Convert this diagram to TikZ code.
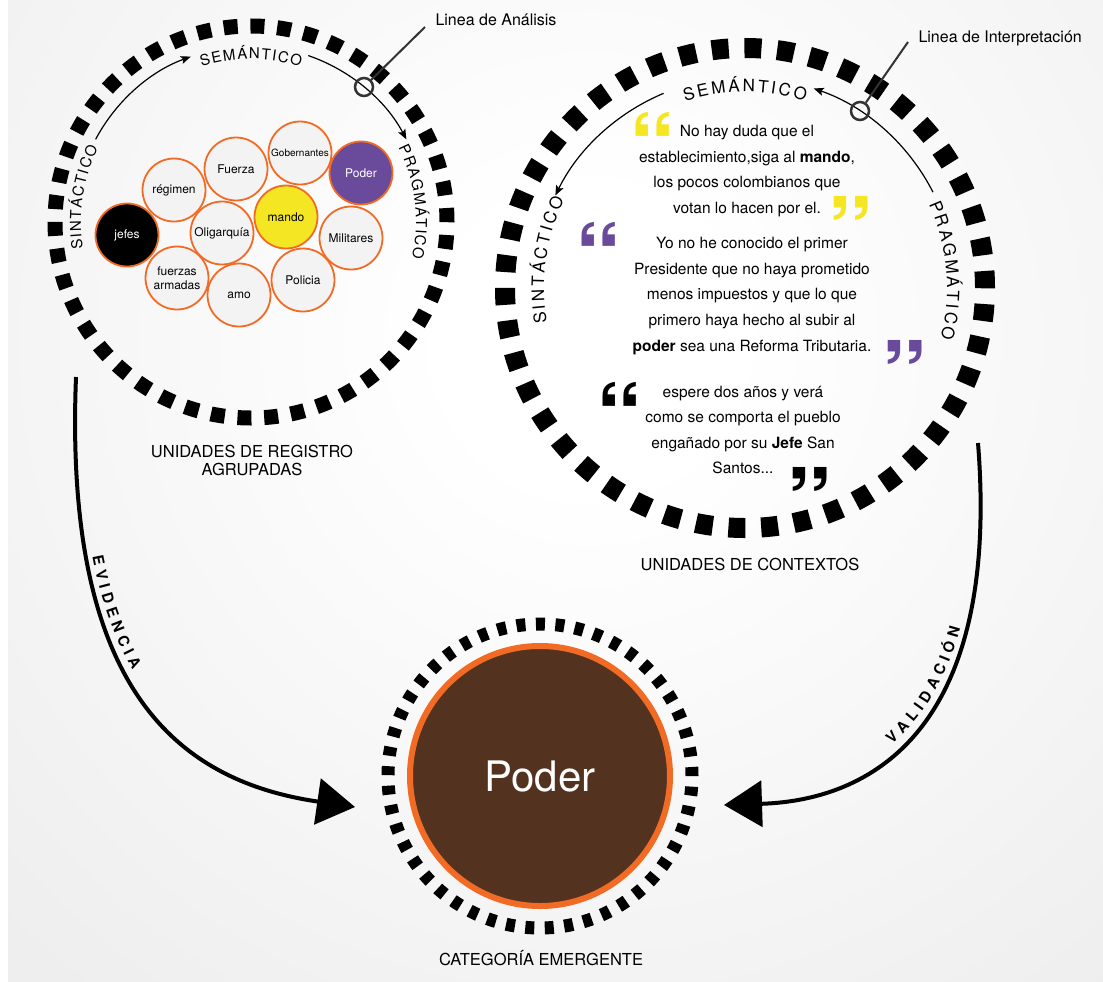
\documentclass[tikz,border=0pt]{standalone}
\usepackage{fontspec}
\setmainfont{TeX Gyre Heros}
\usetikzlibrary{arrows.meta,decorations.text}
\definecolor{naranja}{HTML}{F26B25}
\definecolor{morado}{HTML}{6A4A9B}
\definecolor{amarillo}{HTML}{F4E622}
\definecolor{cafe}{HTML}{533320}
\definecolor{burbuja}{HTML}{F3F3F4}
\definecolor{grisA}{HTML}{F8F8F8}
\definecolor{grisB}{HTML}{EFEFF0}
\definecolor{grisC}{HTML}{E4E4E5}
\definecolor{grisD}{HTML}{DBDBDC}
\definecolor{grisoscuro}{HTML}{333333}
\pgfdeclareradialshading{fondogris}{\pgfpoint{0bp}{0bp}}{color(0bp)=(white);color(4bp)=(white);color(12bp)=(grisA);color(22bp)=(grisB);color(36bp)=(grisC);color(50bp)=(grisD)}
\newcommand{\fanilloA}{\fontsize{15bp}{15bp}\selectfont}
\newcommand{\fanilloB}{\fontsize{17bp}{17bp}\selectfont}
\newcommand{\fflecha}{\bfseries\fontsize{15bp}{15bp}\selectfont}
\tikzset{
  anilloA/.style={circle,draw,line width=15bp,dash pattern=on 14bp off 12.77bp,minimum size=392bp,inner sep=0pt},
  anilloB/.style={circle,draw,line width=20bp,dash pattern=on 17bp off 15.78bp,minimum size=480bp,inner sep=0pt},
  anilloC/.style={circle,draw,line width=13bp,dash pattern=on 9bp off 10.49bp,minimum size=304bp,inner sep=0pt},
  centro/.style={circle,fill=cafe,draw=naranja,line width=6bp,minimum size=260bp,inner sep=0pt,text=white,font=\fontsize{42bp}{42bp}\selectfont},
  palabra/.style={circle,draw=naranja,line width=1.8bp,fill=burbuja,minimum size=63bp,inner sep=0pt,align=center,font=\fontsize{12bp}{14bp}\selectfont},
  giro/.style={line width=1.2bp,-{Stealth[length=10bp,width=8bp,inset=2bp]}},
  marca/.style={circle,draw=grisoscuro,line width=2.5bp,minimum size=18bp,inner sep=0pt},
  aguja/.style={draw=grisoscuro,line width=2bp},
  rotuloA/.style={decorate,decoration={text effects along path,text={#1},text align=center,text effects/.cd,text along path,characters={font=\fanilloA},character widths={inner xsep=0.7bp,font=\fanilloA}}},
  rotuloB/.style={decorate,decoration={text effects along path,text={#1},text align=center,text effects/.cd,text along path,characters={font=\fanilloB},character widths={inner xsep=1.3bp,font=\fanilloB}}},
  rotuloC/.style={decorate,decoration={text effects along path,text={#1},raise=6bp,text effects/.cd,text along path,characters={font=\fflecha},character widths={inner xsep=2.6bp,font=\fflecha}}},
  texto/.style={align=center,font=\fontsize{16.5bp}{18bp}\selectfont},
  linea/.style={anchor=base west,font=\fontsize{16bp}{16bp}\selectfont},
  cita/.style={align=center,inner sep=0pt,font=\fontsize{15.5bp}{25.6bp}\selectfont},
  comilla/.style={anchor=north,inner sep=0pt,font=\fontsize{92bp}{92bp}\selectfont\bfseries},
  flecha/.style={line width=4bp,-{Triangle[length=38bp,width=46bp]}}
}
\begin{document}
\begin{tikzpicture}[x=1bp,y=1bp]
\useasboundingbox(0,0)rectangle(1103,-982);
\fill[white](0,0)rectangle(1103,-982);
\begin{scope}
\clip(8,0)rectangle(1103,-982);
\shade[shading=fondogris](590,-340)circle(900);
\end{scope}
\node[anilloA](1)at(251,-222){};
\node[anilloB](2)at(745,-288){};
\node[anilloC](3)at(540,-776){};
\node[centro](4)at(540,-776){Poder};
\node[palabra](5)at(174,-190){régimen};
\node[palabra](6)at(236,-169){Fuerza};
\node[palabra,font=\fontsize{10bp}{12bp}\selectfont](7)at(300,-153){Gobernantes};
\node[palabra](8)at(222,-233){Oligarquía};
\node[palabra](9)at(177,-278){fuerzas\\armadas};
\node[palabra](10)at(239,-295){amo};
\node[palabra](11)at(303,-280){Policia};
\node[palabra](12)at(351,-238){Militares};
\node[palabra,fill=black,text=white](13)at(127,-235){jefes};
\node[palabra,fill=amarillo](14)at(286,-217){mando};
\node[palabra,fill=morado,text=white](15)at(361,-173){Poder};
\draw[giro](1.center)++(152:176)arc[start angle=152,end angle=110,radius=176];
\draw[giro](1.center)++(71:176)arc[start angle=71,end angle=28,radius=176];
\draw[giro](2.center)++(27:211)arc[start angle=27,end angle=71,radius=211];
\draw[giro](2.center)++(112.7:211)arc[start angle=112.7,end angle=154,radius=211];
\path[rotuloA={SEMÁNTICO}](1.center)++(120:163)arc[start angle=120,end angle=60,radius=163];
\path[rotuloA={SINTÁCTICO}](1.center)++(200:170)arc[start angle=200,end angle=143,radius=170];
\path[rotuloA={PRAGMÁTICO}](1.center)++(37:165)arc[start angle=37,end angle=-23,radius=165];
\path[rotuloB={SEMÁNTICO}](2.center)++(115:196)arc[start angle=115,end angle=65,radius=196];
\path[rotuloB={SINTÁCTICO}](2.center)++(200:201)arc[start angle=200,end angle=144,radius=201];
\path[rotuloB={PRAGMÁTICO}](2.center)++(33:202)arc[start angle=33,end angle=-23,radius=202];
\node[marca](16)at(364,-87){};
\coordinate(17)at(425,-27);
\draw[aguja](16)--(17);
\node[linea](18)at(432,-25){Linea de Análisis};
\node[marca](19)at(860,-111){};
\coordinate(20)at(908,-42);
\draw[aguja](19)--(20);
\node[linea](21)at(915,-42){Linea de Interpretación};
\node[texto](22)at(252,-460){UNIDADES DE REGISTRO\\AGRUPADAS};
\node[texto,anchor=base](23)at(750,-570){UNIDADES DE CONTEXTOS};
\node[texto,anchor=base](24)at(541,-965){CATEGORÍA EMERGENTE};
\node[cita](25)at(747,-171){No hay duda que el\\establecimiento,siga al \textbf{mando},\\los pocos colombianos que\\votan lo hacen por el.};
\node[cita](26)at(752,-296){Yo no he conocido el primer\\Presidente que no haya prometido\\menos impuestos y que lo que\\primero haya hecho al subir al\\\textbf{poder} sea una Reforma Tributaria.};
\node[cita](27)at(743,-430){espere dos años y verá\\como se comporta el pueblo\\engañado por su \textbf{Jefe} San\\Santos...};
\node[comilla,text=amarillo](40)at(652,-112){“};
\node[comilla,text=amarillo](41)at(850,-196){”};
\node[comilla,text=morado](42)at(598,-222){“};
\node[comilla,text=morado](43)at(904,-340){”};
\node[comilla](44)at(619,-382){“};
\node[comilla](45)at(809,-467){”};
\coordinate(30)at(76,-377);
\coordinate(31)at(355,-807);
\coordinate(34)at(86,-555);
\draw[flecha](30)..controls(64,-680)and(170,-780)..(31);
\path[rotuloC={EVIDENCIA}](34)..controls(117,-722)and(212.6,-786.2)..(31);
\coordinate(32)at(978,-443);
\coordinate(33)at(724,-805);
\coordinate(35)at(893.8,-750.1);
\draw[flecha](32)..controls(1000,-720)and(880,-800)..(33);
\path[rotuloC={VALIDACIÓN}](35)..controls(955.9,-698.1)and(990.8,-603.7)..(32);
\end{tikzpicture}
\end{document}
